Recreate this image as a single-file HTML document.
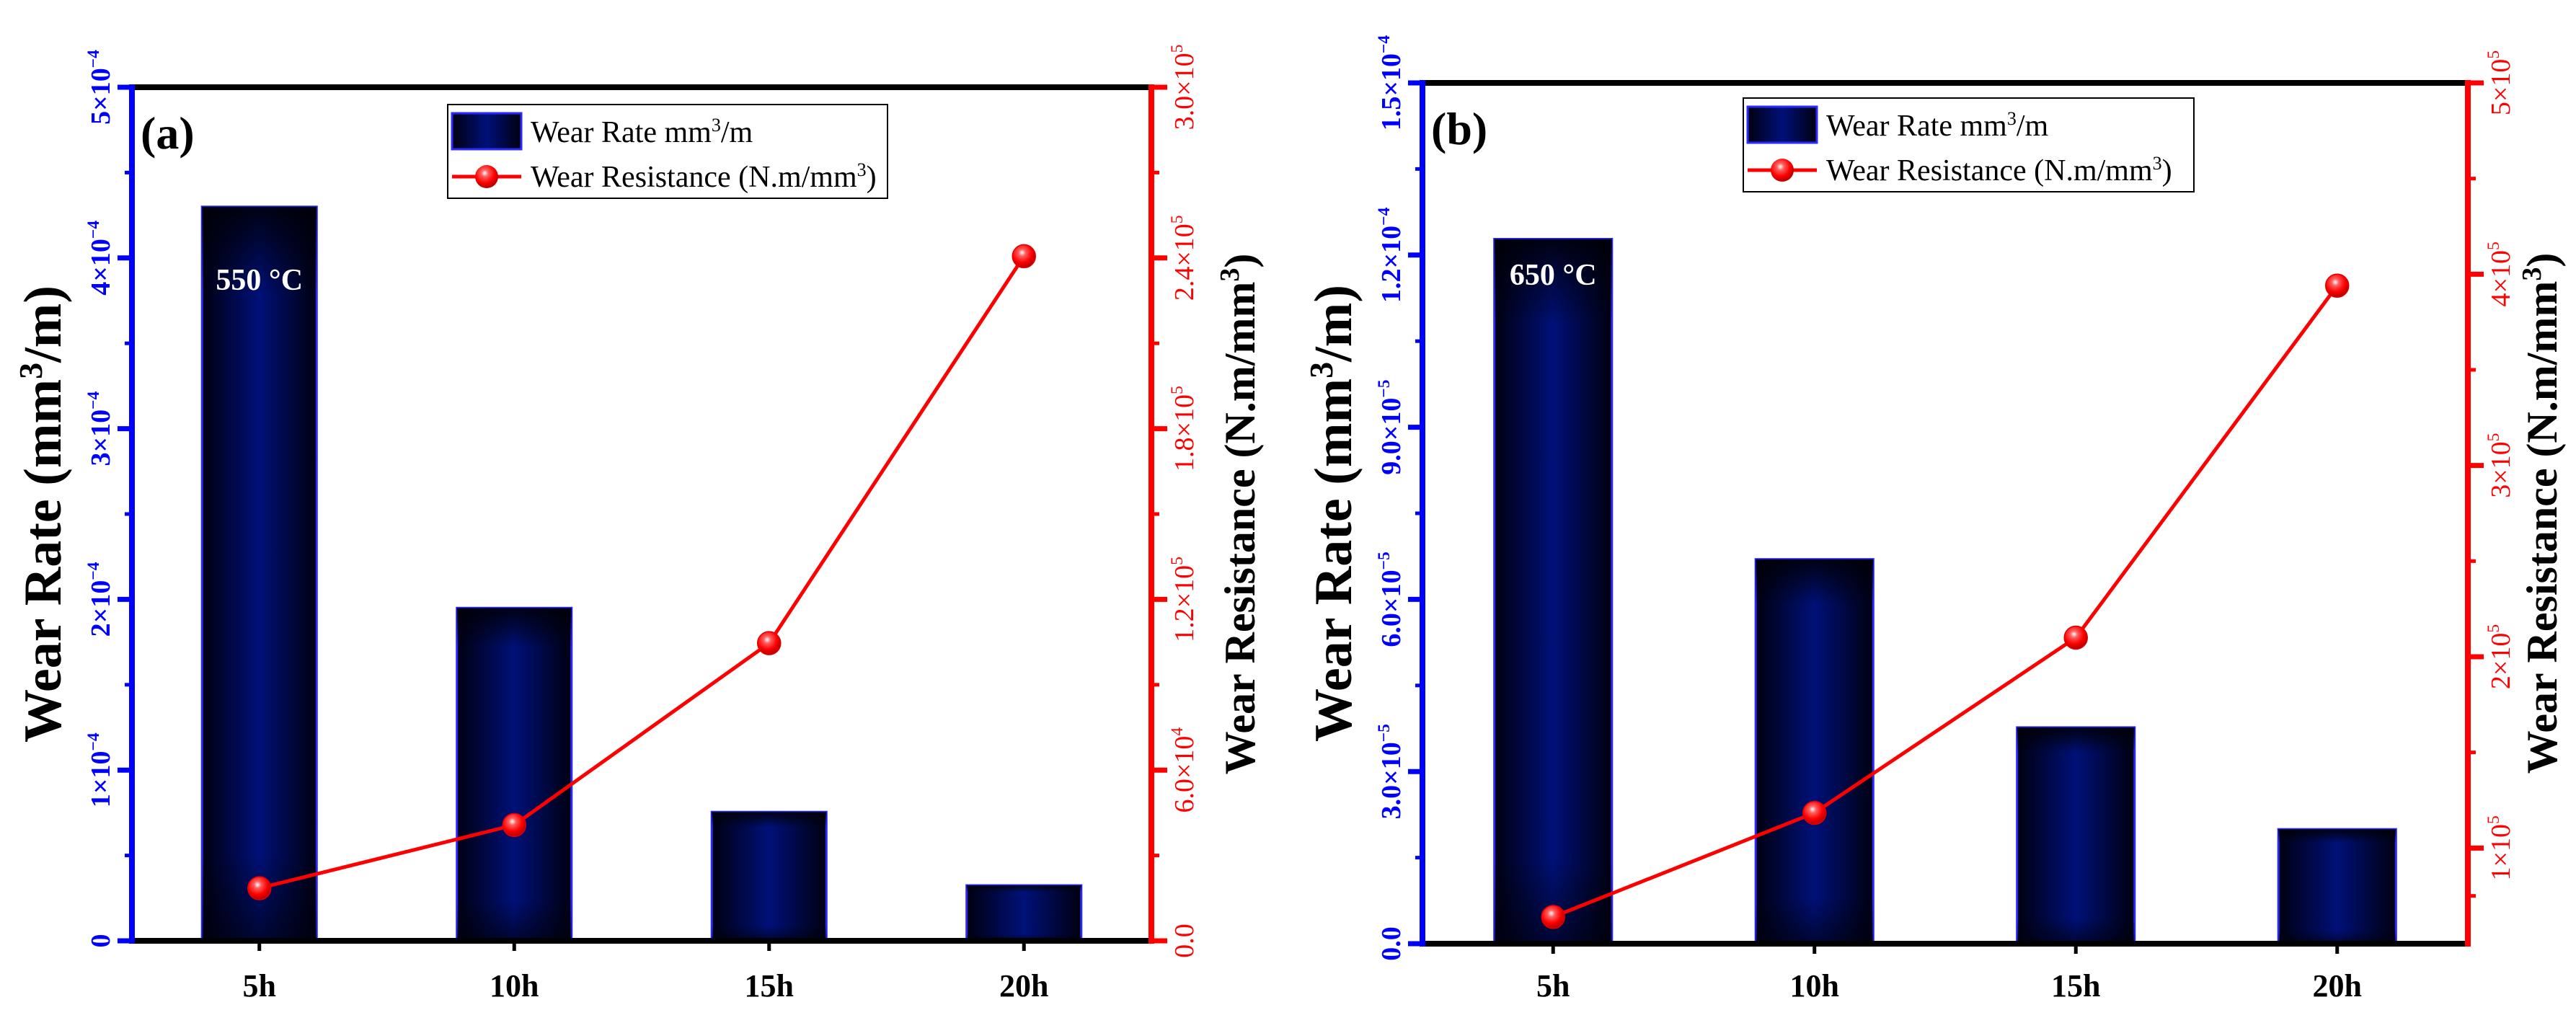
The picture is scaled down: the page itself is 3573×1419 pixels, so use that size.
<!DOCTYPE html>
<html><head><meta charset="utf-8"><style>
html,body{margin:0;padding:0;background:#fff;}
svg{display:block;font-family:"Liberation Serif",serif;}
</style></head><body>
<svg id="chart" width="3573" height="1419" viewBox="0 0 3573 1419" xmlns="http://www.w3.org/2000/svg">
<defs>
<linearGradient id="barH" x1="0" x2="1" y1="0" y2="0">
<stop offset="0" stop-color="#000010"/><stop offset="0.5" stop-color="#001078"/><stop offset="1" stop-color="#000010"/>
</linearGradient>
<linearGradient id="barV" x1="0" x2="0" y1="0" y2="1">
<stop offset="0" stop-color="#000008" stop-opacity="0.9"/><stop offset="0.12" stop-color="#000008" stop-opacity="0"/><stop offset="0.88" stop-color="#000008" stop-opacity="0"/><stop offset="1" stop-color="#000008" stop-opacity="0.6"/>
</linearGradient>
<radialGradient id="ball" cx="0.42" cy="0.35" r="0.6">
<stop offset="0" stop-color="#ffffff"/><stop offset="0.25" stop-color="#ff6060"/><stop offset="0.7" stop-color="#ff0000"/><stop offset="1" stop-color="#c00000"/>
</radialGradient>
</defs>
</svg>
<script>
const categories = ["5h","10h","15h","20h"];
const rateA = [4.30e-4, 1.95e-4, 0.755e-4, 0.325e-4];
const resA = [1.85e4, 4.07e4, 1.046e5, 2.406e5];
const rateB = [1.228e-4, 0.670e-4, 0.377e-4, 0.1995e-4];
const resB = [0.64e5, 1.184e5, 2.10e5, 3.94e5];
const leftTicksA = [0,1e-4,2e-4,3e-4,4e-4,5e-4];
const leftLabelsA = [["0",""],["1×10","−4"],["2×10","−4"],["3×10","−4"],["4×10","−4"],["5×10","−4"]];
const rightTicksA = [0,6e4,1.2e5,1.8e5,2.4e5,3e5];
const rightLabelsA = [["0.0",""],["6.0×10","4"],["1.2×10","5"],["1.8×10","5"],["2.4×10","5"],["3.0×10","5"]];
const leftTicksB = [0,3e-5,6e-5,9e-5,1.2e-4,1.5e-4];
const leftLabelsB = [["0.0",""],["3.0×10","−5"],["6.0×10","−5"],["9.0×10","−5"],["1.2×10","−4"],["1.5×10","−4"]];
const rightTicksB = [1e5,2e5,3e5,4e5,5e5];
const rightLabelsB = [["1×10","5"],["2×10","5"],["3×10","5"],["4×10","5"],["5×10","5"]];

const NS="http://www.w3.org/2000/svg";
const svg=document.getElementById('chart');
function mk(tag,attrs,parent){const e=document.createElementNS(NS,tag);for(const k in attrs)e.setAttribute(k,attrs[k]);(parent||svg).appendChild(e);return e;}

function rotLabel(g,x,y,parts,size,color,weight){
  const t=mk('text',{x:0,y:0,transform:`translate(${x},${y}) rotate(-90)`,'text-anchor':'middle','font-size':size,fill:color,'font-weight':weight},g);
  t.appendChild(document.createTextNode(parts[0]));
  if(parts[1]){const s=mk('tspan',{dy:-size*0.4,'font-size':size*0.62},t);s.textContent=parts[1];}
  return t;
}

function panel(c){
  const g=mk('g',{});
  
  
  const xS=i=>c.L+(i+0.5)*(c.R-c.L)/4;
  const yL=v=>c.B-(v-c.lmin)/(c.lmax-c.lmin)*(c.B-c.T);
  const yR=v=>c.B-(v-c.rmin)/(c.rmax-c.rmin)*(c.B-c.T);
  const step=(c.R-c.L)/4, bw=step*0.45;
  // bars
  c.rate.forEach((v,i)=>{
    const x=xS(i)-bw/2,y=yL(v),h=c.B-y;
    const b=mk('rect',{x:x,y:y,width:bw,height:h,fill:'url(#barH)',stroke:'#2a2aff','stroke-width':3},g);
    
    
    mk('rect',{x:x,y:y,width:bw,height:h,fill:'url(#barV)'},g);
  });
  // bar annotation
  const ann=mk('text',{x:xS(0),y:c.annY,'text-anchor':'middle','font-size':42,'font-weight':'bold',fill:'#fff'},g);
  ann.textContent=c.ann;
  
  
  // line
  const pts=c.res.map((v,i)=>xS(i)+','+yR(v)).join(' ');
  const pl=mk('polyline',{points:pts,fill:'none',stroke:'#ff0000','stroke-width':5},g);
  
  
  c.res.forEach((v,i)=>{
    const m=mk('circle',{cx:xS(i),cy:yR(v),r:16,fill:'url(#ball)',stroke:'#e00000','stroke-width':1.5},g);
    
    
  });
  // axes
  mk('line',{x1:c.L-4,x2:c.R+4,y1:c.T,y2:c.T,stroke:'#000','stroke-width':8},g);
  mk('line',{x1:c.L,x2:c.R,y1:c.B,y2:c.B,stroke:'#000','stroke-width':8},g);
  const la=mk('line',{x1:c.L,x2:c.L,y1:c.T-4,y2:c.B+4,stroke:'#0000ff','stroke-width':8},g);
  
  
  const ra=mk('line',{x1:c.R,x2:c.R,y1:c.T-4,y2:c.B+4,stroke:'#ff0000','stroke-width':8},g);
  
  
  // left ticks
  c.lt.forEach((v,i)=>{
    const y=yL(v);
    mk('line',{x1:c.L-20,x2:c.L,y1:y,y2:y,stroke:'#0000ff','stroke-width':7},g);
    if(i<c.lt.length-1){const ym=yL((v+c.lt[i+1])/2);mk('line',{x1:c.L-10,x2:c.L,y1:ym,y2:ym,stroke:'#0000ff','stroke-width':5},g);}
    const t=rotLabel(g,c.L-31,y,c.ll[i],38,'#0000ff','bold');
    
    
  });
  // right ticks
  c.rt.forEach((v,i)=>{
    const y=yR(v);
    mk('line',{x1:c.R,x2:c.R+22,y1:y,y2:y,stroke:'#ff0000','stroke-width':7},g);
    const nxt=i<c.rt.length-1?c.rt[i+1]:null;
    if(nxt!==null){const ym=yR((v+nxt)/2);mk('line',{x1:c.R,x2:c.R+11,y1:ym,y2:ym,stroke:'#ff0000','stroke-width':5},g);}
    const t=rotLabel(g,c.R+58,y,c.rl[i],38,'#ff0000','normal');
    
    
  });
  if(c.rmin<c.rt[0]){const ym=yR((c.rmin+c.rt[0])/2);mk('line',{x1:c.R,x2:c.R+11,y1:ym,y2:ym,stroke:'#ff0000','stroke-width':5},g);}
  // x ticks and labels
  categories.forEach((cat,i)=>{
    mk('line',{x1:xS(i),x2:xS(i),y1:c.B,y2:c.B+14,stroke:'#000','stroke-width':5},g);
    const t=mk('text',{x:xS(i),y:1382,'text-anchor':'middle','font-size':44,'font-weight':'bold',fill:'#000'},g);
    t.textContent=cat;
    
    
  });
  // panel letter
  const pn=mk('text',{x:c.L+12,y:c.T+85,'font-size':64,'font-weight':'bold',fill:'#000'},g);
  pn.textContent=c.letter;
  
  
  // titles
  const lt=mk('text',{x:0,y:0,transform:`translate(${c.ltx},${(c.T+c.B)/2}) rotate(-90)`,'text-anchor':'middle','font-size':74,'font-weight':'bold',fill:'#000'},g);
  lt.innerHTML='Wear Rate (mm<tspan dy="-26" font-size="46">3</tspan><tspan dy="26">/m)</tspan>';
  
  
  const rtt=mk('text',{x:0,y:0,transform:`translate(${c.rtx},${(c.T+c.B)/2}) rotate(-90)`,'text-anchor':'middle','font-size':60,'font-weight':'bold',fill:'#000'},g);
  rtt.innerHTML='Wear Resistance (N.m/mm<tspan dy="-22" font-size="38">3</tspan><tspan dy="22">)</tspan>';
  
  
  // legend
  const lg=mk('g',{},g);
  
  
  mk('rect',{x:c.lgx,y:c.lgy,width:c.lgw,height:130,fill:'#fff',stroke:'#000','stroke-width':2},lg);
  const sw=mk('rect',{x:c.lgx+6,y:c.lgy+12,width:96,height:50,fill:'url(#barH)',stroke:'#2a2aff','stroke-width':3},lg);
  
  
  const t1=mk('text',{x:c.lgx+115,y:c.lgy+52,'font-size':42,fill:'#000'},lg);
  t1.innerHTML='Wear Rate mm<tspan dy="-15" font-size="26">3</tspan><tspan dy="15">/m</tspan>';
  
  
  mk('line',{x1:c.lgx+6,x2:c.lgx+102,y1:c.lgy+100,y2:c.lgy+100,stroke:'#ff0000','stroke-width':5},lg);
  mk('circle',{cx:c.lgx+54,cy:c.lgy+100,r:16,fill:'url(#ball)'},lg);
  const t2=mk('text',{x:c.lgx+115,y:c.lgy+114,'font-size':42,fill:'#000'},lg);
  t2.innerHTML='Wear Resistance (N.m/mm<tspan dy="-15" font-size="26">3</tspan><tspan dy="15">)</tspan>';
  
  
}

panel({name:'panel-a',letter:'(a)',ann:'550 °C',annY:402,L:183,R:1597,T:121,B:1305,lmin:0,lmax:5e-4,rmin:0,rmax:3e5,
  rate:rateA,res:resA,lt:leftTicksA,ll:leftLabelsA,rt:rightTicksA,rl:rightLabelsA,ltx:84,rtx:1740,lgx:621,lgy:145,lgw:610});
panel({name:'panel-b',letter:'(b)',ann:'650 °C',annY:395,L:1973,R:3423,T:115,B:1309,lmin:0,lmax:1.5e-4,rmin:0.5e5,rmax:5e5,
  rate:rateB,res:resB,lt:leftTicksB,ll:leftLabelsB,rt:rightTicksB,rl:rightLabelsB,ltx:1874,rtx:3546,lgx:2418,lgy:136,lgw:625});
</script>
</body></html>
